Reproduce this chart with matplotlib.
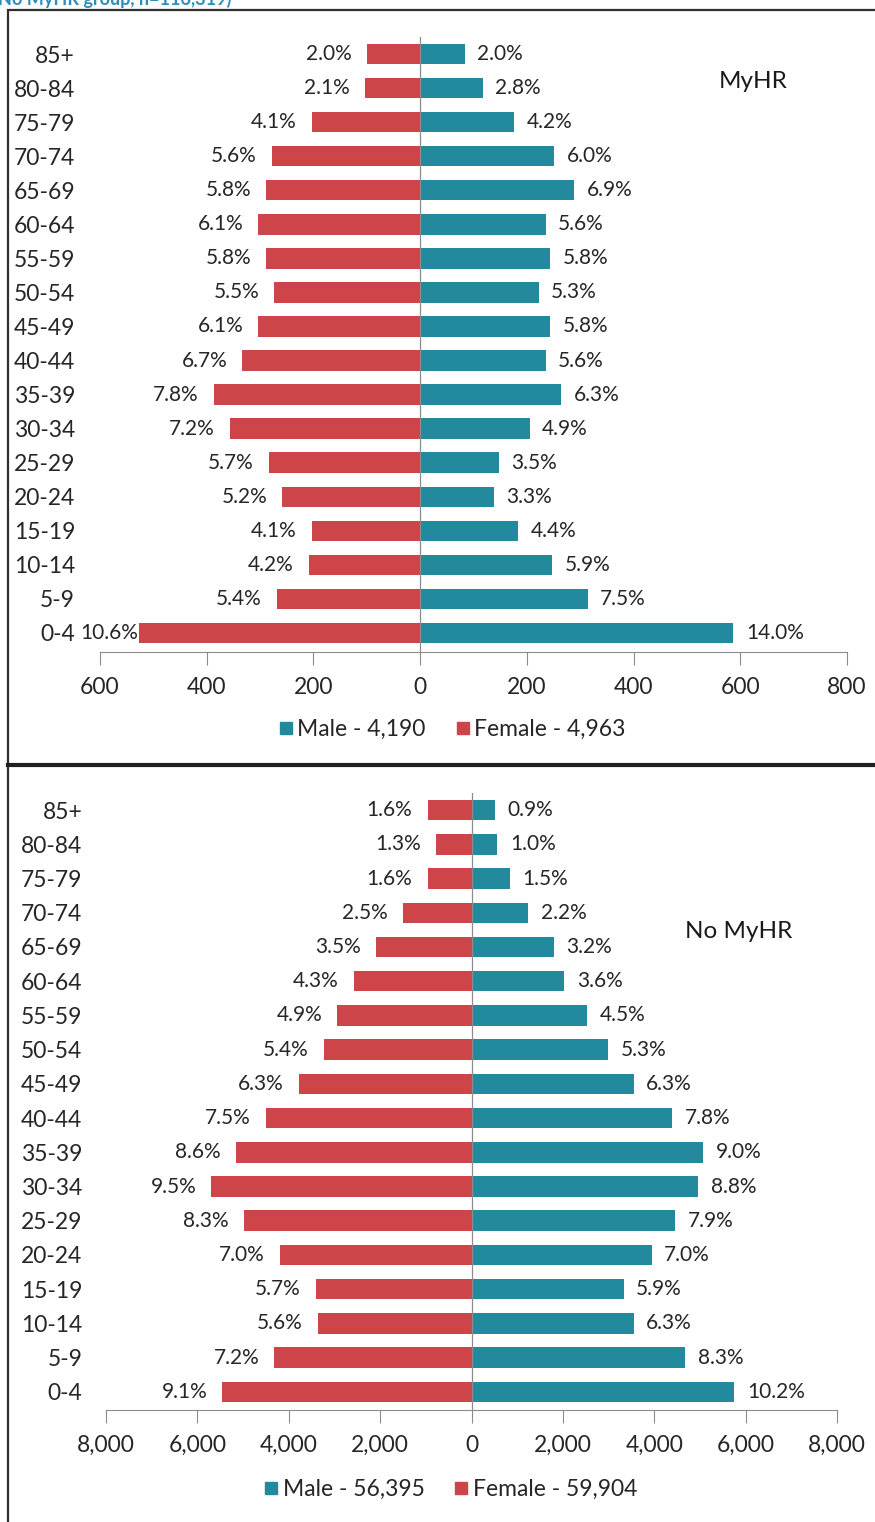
import matplotlib
matplotlib.use('Agg')
import matplotlib.pyplot as plt
from matplotlib.patches import Rectangle
from matplotlib.lines import Line2D
from matplotlib.ticker import FuncFormatter

plt.rcParams['font.family'] = ['Lato', 'DejaVu Sans']

age_groups = ['85+', '80-84', '75-79', '70-74', '65-69', '60-64', '55-59', '50-54', '45-49',
              '40-44', '35-39', '30-34', '25-29', '20-24', '15-19', '10-14', '5-9', '0-4']

# MyHR group (counts, percent labels as printed)
myhr_male = [84, 117, 176, 251, 289, 235, 243, 222, 243, 235, 264, 205, 147, 138, 184, 247, 314, 587]
myhr_female = [99, 104, 203, 278, 288, 303, 288, 273, 303, 333, 387, 357, 283, 258, 203, 208, 268, 526]
myhr_male_pct = [2.0, 2.8, 4.2, 6.0, 6.9, 5.6, 5.8, 5.3, 5.8, 5.6, 6.3, 4.9, 3.5, 3.3, 4.4, 5.9, 7.5, 14.0]
myhr_female_pct = [2.0, 2.1, 4.1, 5.6, 5.8, 6.1, 5.8, 5.5, 6.1, 6.7, 7.8, 7.2, 5.7, 5.2, 4.1, 4.2, 5.4, 10.6]

# No MyHR group
no_male = [508, 564, 846, 1241, 1805, 2030, 2538, 2989, 3553, 4399, 5076, 4963, 4455, 3948, 3327, 3553,
           4681, 5752]
no_female = [958, 779, 958, 1498, 2097, 2576, 2935, 3235, 3774, 4493, 5152, 5691, 4972, 4193, 3414, 3355,
             4313, 5451]
no_male_pct = [0.9, 1.0, 1.5, 2.2, 3.2, 3.6, 4.5, 5.3, 6.3, 7.8, 9.0, 8.8, 7.9, 7.0, 5.9, 6.3, 8.3, 10.2]
no_female_pct = [1.6, 1.3, 1.6, 2.5, 3.5, 4.3, 4.9, 5.4, 6.3, 7.5, 8.6, 9.5, 8.3, 7.0, 5.7, 5.6, 7.2, 9.1]

myhr_legend = ['Male - 4,190', 'Female - 4,963']
no_legend = ['Male - 56,395', 'Female - 59,904']

male_color = '#238A9E'
female_color = '#CD4548'
axis_color = '#8C8C8C'

W, H = 875, 1522
fig = plt.figure(figsize=(W / 100, H / 100), dpi=100)


def px_box(left, right, top, bottom):
    return [left / W, 1 - bottom / H, (right - left) / W, (bottom - top) / H]


def draw_pyramid(ax, male, female, male_pct, female_pct, xlim, ticks, fmt, ylow, legend_labels,
                 name, name_xy, ypad, legend_y):
    n = len(age_groups)
    ypos = [n - 1 - i for i in range(n)]
    ax.barh(ypos, male, height=0.6, color=male_color, zorder=2)
    ax.barh(ypos, [-v for v in female], height=0.6, color=female_color, zorder=2)
    ax.axvline(0, color=axis_color, lw=0.9, zorder=3)
    ax.set_xlim(xlim)
    ax.set_ylim(ylow, n - 0.5)
    ax.set_xticks(ticks)
    ax.xaxis.set_major_formatter(FuncFormatter(fmt))
    ax.set_yticks(ypos)
    ax.set_yticklabels(age_groups)
    for side in ['top', 'right', 'left']:
        ax.spines[side].set_visible(False)
    ax.spines['bottom'].set_color(axis_color)
    ax.tick_params(axis='x', direction='out', length=9, color=axis_color, labelsize=16.5, pad=9,
                   labelcolor='#262626')
    ax.tick_params(axis='y', length=0, labelsize=16.5, pad=ypad, labelcolor='#262626')

    x_min = xlim[0]
    for y, m, f, mp, fp in zip(ypos, male, female, male_pct, female_pct):
        ax.annotate('%.1f%%' % mp, (m, y), xytext=(9, 0), textcoords='offset points',
                    ha='left', va='center', fontsize=15, color='#262626')
        # female label sits left of the bar, pulled in when it would run off the axis
        off = -11
        span = (ax.transData.transform((-f, 0))[0] - ax.transData.transform((x_min, 0))[0]) * 72 / 100
        if span < 55:
            off = -1
        ax.annotate('%.1f%%' % fp, (-f, y), xytext=(off, 0), textcoords='offset points',
                    ha='right', va='center', fontsize=15, color='#262626')

    ax.text(name_xy[0], name_xy[1], name, transform=ax.transAxes, fontsize=17.5,
            ha='center', va='center', color='#1a1a1a')

    handles = [Line2D([], [], marker='s', ls='', color=male_color, markersize=9),
               Line2D([], [], marker='s', ls='', color=female_color, markersize=9)]
    ax.legend(handles, legend_labels, loc='upper center', bbox_to_anchor=(0.47, legend_y),
              ncol=2, frameon=False, fontsize=16.5, handletextpad=0.1, columnspacing=1.2,
              handlelength=0.8, labelcolor='#262626')


ax_top = fig.add_axes(px_box(100, 847, 37, 652))
draw_pyramid(ax_top, myhr_male, myhr_female, myhr_male_pct, myhr_female_pct,
             (-600, 800), range(-600, 801, 200), lambda v, p: '%d' % abs(v), -0.56,
             myhr_legend, 'MyHR', (0.875, 0.928), 18, -0.075)

ax_bot = fig.add_axes(px_box(106, 837, 793, 1410))
draw_pyramid(ax_bot, no_male, no_female, no_male_pct, no_female_pct,
             (-8000, 8000), range(-8000, 8001, 2000), lambda v, p: '{:,}'.format(abs(int(v))), -0.53,
             no_legend, 'No MyHR', (0.865, 0.775), 17, -0.078)

# panel frames
fig.patches.append(Rectangle((8 / W, 1 - 765 / H), (W + 20) / W, (765 - 10) / H, transform=fig.transFigure,
                             fill=False, lw=1.6, edgecolor='#303030', clip_on=False))
fig.patches.append(Rectangle((8 / W, 1 - (H + 10) / H), (W + 20) / W, (H + 10 - 765) / H,
                             transform=fig.transFigure, fill=False, lw=1.6, edgecolor='#303030',
                             clip_on=False))
fig.add_artist(Line2D([8 / W, 1.0], [1 - 765 / H, 1 - 765 / H], transform=fig.transFigure,
                      color='#202020', lw=3))

# clipped caption from the page above
fig.text(-2 / W, 1 - 5 / H, 'No MyHR group, n=116,319)', fontsize=13, fontweight='bold',
         color='#2E8EB8', ha='left', va='baseline')

fig.savefig('out.png', dpi=100)
